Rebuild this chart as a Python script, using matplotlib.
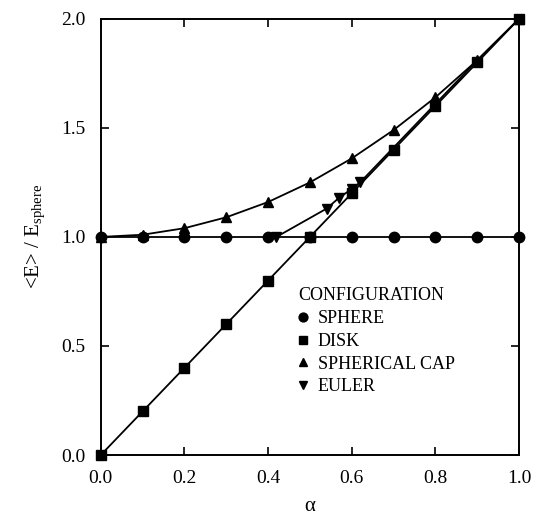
import matplotlib.pyplot as plt

plt.rcParams['font.family'] = ['Liberation Serif', 'DejaVu Serif']
plt.rcParams['mathtext.fontset'] = 'custom'
plt.rcParams['mathtext.rm'] = 'Liberation Serif'
plt.rcParams['mathtext.it'] = 'Liberation Serif:italic'

# data
alpha = [0.0, 0.1, 0.2, 0.3, 0.4, 0.5, 0.6, 0.7, 0.8, 0.9, 1.0]
sphere = [1.0, 1.0, 1.0, 1.0, 1.0, 1.0, 1.0, 1.0, 1.0, 1.0, 1.0]
disk = [0.0, 0.2, 0.4, 0.6, 0.8, 1.0, 1.2, 1.4, 1.6, 1.8, 2.0]
cap = [1.0, 1.01, 1.04, 1.09, 1.16, 1.25, 1.36, 1.49, 1.64, 1.81, 2.0]
euler_x = [0.42, 0.54, 0.57, 0.60, 0.62, 0.70, 0.80, 0.90, 1.0]
euler_y = [1.0, 1.13, 1.18, 1.22, 1.25, 1.41, 1.61, 1.81, 2.0]

fig = plt.figure(figsize=(5.39, 5.23), dpi=100)
ax = fig.add_axes([0.187, 0.130, 0.776, 0.834])

lw = 1.3
ax.plot(alpha, sphere, 'k-', marker='o', ms=7.5, lw=lw, label='SPHERE', clip_on=False, zorder=3)
ax.plot(alpha, disk, 'k-', marker='s', ms=6.5, lw=lw, label='DISK', clip_on=False, zorder=3)
ax.plot(alpha, cap, 'k-', marker='^', ms=7, lw=lw, label='SPHERICAL CAP', clip_on=False, zorder=3)
ax.plot(euler_x, euler_y, 'k-', marker='v', ms=7, lw=lw, label='EULER',
        markevery=[0, 1, 2, 3, 4], clip_on=False, zorder=3)

ax.set_xlim(0, 1)
ax.set_ylim(0, 2)
ax.set_xticks([0.0, 0.2, 0.4, 0.6, 0.8, 1.0])
ax.set_yticks([0.0, 0.5, 1.0, 1.5, 2.0])
ax.set_xticklabels(['0.0', '0.2', '0.4', '0.6', '0.8', '1.0'])
ax.set_yticklabels(['0.0', '0.5', '1.0', '1.5', '2.0'])
ax.tick_params(direction='in', top=True, right=True, length=6, width=1.2,
               labelsize=14, pad=11)
for s in ax.spines.values():
    s.set_linewidth(1.4)

ax.set_xlabel('\u03b1', fontsize=15, labelpad=7)
ax.set_ylabel(r'<E> / E$_{\mathrm{sphere}}$', fontsize=15, labelpad=10)

leg = ax.legend(title='CONFIGURATION', loc='upper left', bbox_to_anchor=(0.45, 0.405),
                frameon=False, fontsize=13, title_fontsize=13, handlelength=0.6,
                handletextpad=0.5, labelspacing=0.32, borderpad=0, alignment='left',
                markerscale=0.85)
leg._legend_handle_box.sep = 6
for h in leg.legend_handles:
    h.set_linestyle('none')

fig.savefig('out.png', dpi=100)
